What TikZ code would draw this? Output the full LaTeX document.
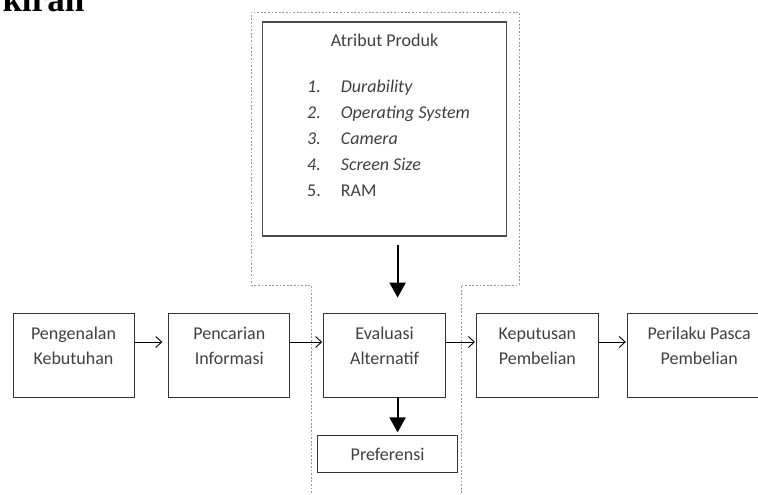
\documentclass[tikz,border=0pt]{standalone}
\usepackage{fontspec}
\setmainfont{Carlito}
\newfontfamily\headfont{Liberation Serif}
\usetikzlibrary{arrows.meta,positioning}

% text box with the lines set from the top
\newcommand{\topbox}[2]{\parbox[c][84pt][t]{#1}{\centering\rule{0pt}{26pt}#2}}

\begin{document}
\begin{tikzpicture}[
  x=1pt, y=1pt,
  every node/.style={font=\fontsize{18pt}{25pt}\selectfont, text=black!75},
  stagebox/.style={draw=black!80, line width=0.8pt, inner sep=0pt},
  attrbox/.style={draw=black!70, line width=1.4pt, inner sep=0pt},
  prefbox/.style={draw=black!80, line width=0.8pt, minimum width=140pt, minimum height=37pt, inner sep=0pt},
  flow/.style={-{Straight Barb[length=6pt,width=11pt]}, line width=0.9pt},
  feed/.style={-{Triangle[length=15pt,width=16pt]}, line width=2pt},
  zone/.style={draw=black!40, line width=0.9pt, dash pattern=on 1.8pt off 1.8pt}
]
\useasboundingbox (0,0) rectangle (758,-495);

\node[anchor=base west, font=\headfont\bfseries\fontsize{35pt}{35pt}\selectfont, text=black] (head) at (-1,-12) {kiran};

% dotted frame round the evaluation stage
\draw[zone] (311,-493) -- (311,-285) -- (251,-285) -- (251,-12) -- (519,-12) -- (519,-285) -- (461,-285) -- (461,-493);

\node[stagebox] (peng) at (73.5,-355) {\topbox{121pt}{Pengenalan\\Kebutuhan}};
\node[stagebox, right=34pt of peng] (penc) {\topbox{121pt}{Pencarian\\Informasi}};
\node[stagebox, right=33pt of penc] (eval) {\topbox{122pt}{Evaluasi\\Alternatif}};
\node[stagebox, right=30pt of eval] (kep) {\topbox{122pt}{Keputusan\\Pembelian}};
\node[stagebox, right=28pt of kep] (peri) {\topbox{144pt}{Perilaku Pasca\\Pembelian}};

\node[attrbox, above=76pt of eval] (attr) {\parbox[c][214pt][t]{244pt}{\centering\rule{0pt}{25pt}Atribut Produk\\[21pt]
  \hspace*{8pt}\renewcommand{\arraystretch}{1.04}%
  \begin{tabular}[t]{@{}l@{\hspace{20pt}}l@{}}
    \textit{1.} & \textit{Durability}\\
    \textit{2.} & \textit{Operating System}\\
    \textit{3.} & \textit{Camera}\\
    \textit{4.} & \textit{Screen Size}\\
    5. & RAM
  \end{tabular}}};

\node[prefbox, below=38pt of eval, xshift=3pt] (pref) {Preferensi};

\draw[flow] ([yshift=13pt]peng.east) -- ([yshift=13pt,xshift=-6pt]penc.west);
\draw[flow] ([yshift=13pt]penc.east) -- ([yshift=13pt,xshift=-1pt]eval.west);
\draw[flow] ([yshift=13pt]eval.east) -- ([yshift=13pt,xshift=-1pt]kep.west);
\draw[flow] ([yshift=13pt]kep.east) -- ([yshift=13pt,xshift=-1pt]peri.west);

\draw[feed] ([xshift=13pt,yshift=-8pt]attr.south) -- ([xshift=13pt,yshift=15pt]eval.north);
\draw[feed] ([xshift=13pt]eval.south) -- ([xshift=10pt,yshift=3pt]pref.north);
\end{tikzpicture}
\end{document}
